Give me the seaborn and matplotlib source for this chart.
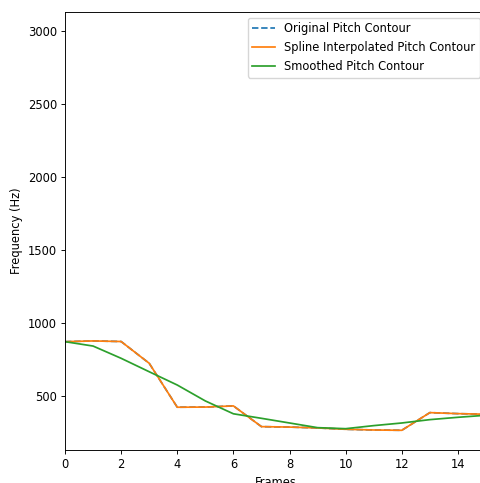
import numpy as np
import pandas as pd
import matplotlib
matplotlib.use("Agg")
import matplotlib.pyplot as plt
import seaborn as sns

# ===============================
# Data
# ===============================

frames = [0, 1, 2, 3, 4, 5, 6, 7, 8, 9, 10, 11, 12, 13, 14, 15]
original_pitch = [872, 877, 873, 724, 423, 424, 432, 290, 287, 281, 272, 267, 265, 386, 379, 375]
spline_pitch = [872, 877, 873, 724, 423, 424, 432, 290, 287, 281, 272, 267, 265, 386, 379, 375]
smoothed_pitch = [872, 842, 758, 666, 575, 466, 378, 347, 315, 283, 276, 297, 315, 338, 354, 368]

df = pd.DataFrame({
    "Frames": frames,
    "Original": original_pitch,
    "Spline": spline_pitch,
    "Smoothed": smoothed_pitch,
})

# the reference looks like a shrunk-down default matplotlib figure
s = 0.83
plt.rcParams.update({
    "font.size": 10 * s,
    "lines.linewidth": 1.5 * s,
    "axes.linewidth": 0.8 * s,
    "xtick.major.size": 3.5 * s,
    "ytick.major.size": 3.5 * s,
    "xtick.major.width": 0.8 * s,
    "ytick.major.width": 0.8 * s,
    "xtick.major.pad": 3.5 * s,
    "ytick.major.pad": 3.5 * s,
    "axes.labelpad": 4.0 * s,
    "legend.fontsize": 10 * s,
})

# ===============================
# Plot
# ===============================

fig = plt.figure(figsize=(4.81, 4.83), dpi=100)
ax = fig.add_axes([65 / 481, 33 / 483, 421 / 481, 438 / 483])

sns.lineplot(data=df, x="Frames", y="Original", ax=ax, color="C0",
             linestyle="--", label="Original Pitch Contour")
sns.lineplot(data=df, x="Frames", y="Spline", ax=ax, color="C1",
             label="Spline Interpolated Pitch Contour")
sns.lineplot(data=df, x="Frames", y="Smoothed", ax=ax, color="C2",
             label="Smoothed Pitch Contour")

ax.set_xlim(0, 15)
ax.set_ylim(130, 3130)
ax.set_xticks([0, 2, 4, 6, 8, 10, 12, 14])
ax.set_yticks([500, 1000, 1500, 2000, 2500, 3000])
ax.set_xlabel("Frames")
ax.set_ylabel("Frequency (Hz)")
ax.legend(loc="upper right")

fig.savefig("out.png", dpi=100)
plt.close(fig)
